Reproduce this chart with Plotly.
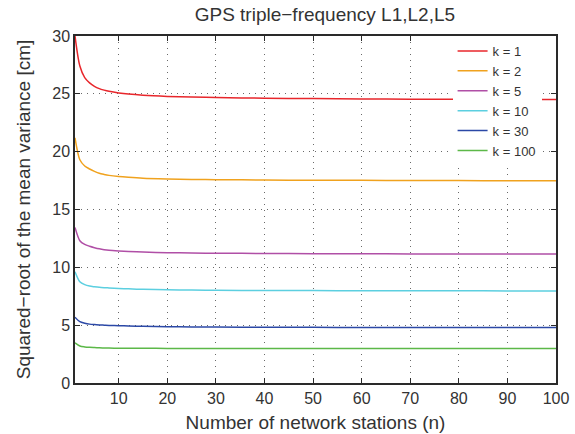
import plotly.graph_objects as go

n_vals = [1, 2, 3, 4, 5, 6, 7, 8, 10, 12, 15, 20, 25, 30, 40, 50, 60, 70, 80, 90, 100]

k1 = [30.0, 27.4, 26.4, 25.95, 25.65, 25.45, 25.32, 25.22, 25.08, 24.98, 24.88, 24.78,
      24.72, 24.68, 24.62, 24.59, 24.56, 24.54, 24.53, 24.52, 24.5]
k2 = [21.2, 19.3, 18.76, 18.5, 18.3, 18.13, 18.03, 17.95, 17.85, 17.78, 17.7, 17.64,
      17.6, 17.58, 17.55, 17.53, 17.52, 17.51, 17.5, 17.49, 17.48]
k5 = [13.45, 12.3, 11.98, 11.82, 11.7, 11.6, 11.53, 11.48, 11.42, 11.37, 11.32, 11.27,
      11.24, 11.22, 11.2, 11.18, 11.17, 11.16, 11.16, 11.15, 11.15]
k10 = [9.62, 8.75, 8.5, 8.38, 8.32, 8.27, 8.24, 8.22, 8.18, 8.14, 8.1, 8.06,
       8.04, 8.02, 8.0, 7.99, 7.98, 7.97, 7.97, 7.96, 7.96]
k30 = [5.69, 5.3, 5.17, 5.09, 5.05, 5.02, 5.0, 4.98, 4.96, 4.93, 4.9, 4.87,
       4.85, 4.84, 4.82, 4.81, 4.8, 4.8, 4.79, 4.79, 4.79]
k100 = [3.47, 3.2, 3.12, 3.08, 3.06, 3.04, 3.03, 3.02, 3.01, 3.0, 3.0, 2.99,
        2.99, 2.98, 2.98, 2.98, 2.98, 2.98, 2.98, 2.98, 2.98]

series_names = ["k = 1", "k = 2", "k = 5", "k = 10", "k = 30", "k = 100"]
series_values = [k1, k2, k5, k10, k30, k100]
colors = ["#e8262b", "#f0a21e", "#b04fa6", "#5ccfe0", "#2b48a6", "#5cb848"]

x_ticks = [10, 20, 30, 40, 50, 60, 70, 80, 90, 100]
y_ticks = [0, 5, 10, 15, 20, 25, 30]

fig = go.Figure()
for name, vals, c in zip(series_names, series_values, colors):
    fig.add_trace(go.Scatter(x=n_vals, y=vals, mode="lines", name=name,
                             line=dict(color=c, width=1.5, shape="spline", smoothing=0.8)))

font_family = "Liberation Sans, Arial, Helvetica, sans-serif"
axis_common = dict(
    showline=True, linecolor="#2a2a2a", linewidth=1.5, mirror="allticks",
    ticks="inside", ticklen=5, tickcolor="#2a2a2a", tickwidth=1,
    showgrid=True, gridcolor="#6a6a6a", griddash="1px,5px", gridwidth=1,
    zeroline=False, automargin=False,
    tickfont=dict(size=16, color="#333333", family=font_family),
)

fig.update_layout(
    width=575, height=434,
    margin=dict(l=75, r=19, t=36, b=51),
    paper_bgcolor="white", plot_bgcolor="white",
    font=dict(family=font_family, color="#333333"),
    title=dict(text="GPS triple\u2212frequency L1,L2,L5", x=0.565, xanchor="center",
               y=0.968, yanchor="middle", font=dict(size=19, color="#333333")),
    xaxis=dict(range=[1, 100], tickvals=x_ticks, ticklabelstandoff=0,
               title=dict(text="Number of network stations (n)", font=dict(size=19), standoff=10),
               **axis_common),
    yaxis=dict(range=[0, 30], tickvals=y_ticks,
               title=dict(text="Squared\u2212root of the mean variance [cm]", font=dict(size=19), standoff=17),
               **axis_common),
    legend=dict(x=0.785, y=1.0, xanchor="left", yanchor="top", bgcolor="white",
                borderwidth=0, font=dict(size=13, color="#333333"),
                tracegroupgap=0, itemwidth=30),
    showlegend=True,
)

fig.write_html("out.html", config={"displayModeBar": False},
               post_script="document.body.style.margin='0px';")
